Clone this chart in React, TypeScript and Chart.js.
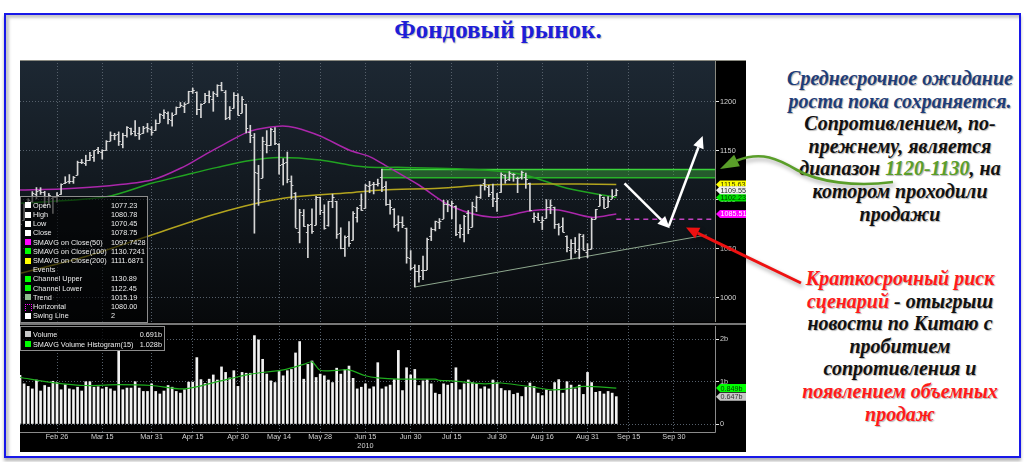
import React, { useEffect, useRef } from 'react';
import { Chart, registerables } from 'chart.js';

Chart.register(...registerables);
Chart.defaults.font.family = 'Liberation Sans';

// ---------- categories: trading days ----------
const FEB_DAYS = [12, 16, 17, 18, 19, 22, 23, 24, 25, 26];
const MAR_DAYS = [1, 2, 3, 4, 5, 8, 9, 10, 11, 12, 15, 16, 17, 18, 19, 22, 23, 24, 25, 26, 29, 30, 31];
const APR_DAYS = [1, 5, 6, 7, 8, 9, 12, 13, 14, 15, 16, 19, 20, 21, 22, 23, 26, 27, 28, 29, 30];
const MAY_DAYS = [3, 4, 5, 6, 7, 10, 11, 12, 13, 14, 17, 18, 19, 20, 21, 24, 25, 26, 27, 28];
const JUN_DAYS = [1, 2, 3, 4, 7, 8, 9, 10, 11, 14, 15, 16, 17, 18, 21, 22, 23, 24, 25, 28, 29, 30];
const JUL_DAYS = [1, 2, 6, 7, 8, 9, 12, 13, 14, 15, 16, 19, 20, 21, 22, 23, 26, 27, 28, 29, 30];
const AUG_DAYS = [2, 3, 4, 5, 6, 9, 10, 11, 12, 13, 16, 17, 18, 19, 20, 23, 24, 25, 26, 27, 30, 31];
const SEP_DAYS = [1, 2, 3, 7, 8, 9, 10, 13, 14, 15, 16, 17, 20, 21, 22, 23, 24, 27, 28, 29, 30];
const OCT_DAYS = [1, 4, 5, 6, 7, 8, 11, 12, 13, 14];
const MONTHS: [string, number[]][] = [
  ['Feb', FEB_DAYS], ['Mar', MAR_DAYS], ['Apr', APR_DAYS], ['May', MAY_DAYS], ['Jun', JUN_DAYS],
  ['Jul', JUL_DAYS], ['Aug', AUG_DAYS], ['Sep', SEP_DAYS], ['Oct', OCT_DAYS],
];
const LABELS: string[] = MONTHS.flatMap(([m, days]) => days.map((d) => `${m} ${d}`));

const X_TICK_LABELS = ['Feb 26', 'Mar 15', 'Mar 31', 'Apr 15', 'Apr 30', 'May 14', 'May 28', 'Jun 15',
  'Jun 30', 'Jul 15', 'Jul 30', 'Aug 16', 'Aug 31', 'Sep 15', 'Sep 30'];
const YEAR_LABEL = '2010';
const YEAR_UNDER = 'Jun 15';
const TICK_SET = new Set(X_TICK_LABELS);

const PRICE_TICKS = [1000, 1050, 1100, 1150, 1200];
const VOLUME_TICKS = [0, 1, 2];

// ---------- price OHLC (Feb 12 .. Sep 10, 2010) ----------
const OPEN = [1075.95,1079.13,1096.14,1099.03,1105.49,1110.00,1107.49,1095.89,1101.24,1103.10,
  1105.36,1117.01,1119.36,1119.12,1125.12,1138.40,1137.56,1140.22,1143.96,1151.71,1148.53,1150.83,1159.94,1166.13,1166.68,1157.25,1166.47,1172.70,1170.03,1167.58,1167.71,1173.75,1171.75,
  1171.23,1178.71,1186.01,1188.23,1181.75,1187.47,1194.94,1195.94,1198.69,1210.77,1210.17,1192.06,1199.04,1207.16,1202.52,1207.87,1217.07,1209.92,1184.59,1193.30,1206.77,
  1188.58,1197.50,1169.24,1164.38,1127.04,1122.27,1156.39,1155.43,1170.04,1157.19,1136.52,1138.78,1119.57,1107.34,1067.26,1084.78,1067.42,1075.51,1074.27,1102.59,
  1087.30,1073.89,1098.82,1098.43,1065.84,1050.81,1062.75,1058.77,1082.65,1095.00,1091.21,1114.02,1115.98,1116.16,1122.79,1113.90,1095.57,1090.93,1075.10,1077.50,1071.10,1040.56,
  1031.10,1027.65,1028.09,1028.54,1062.92,1070.50,1077.23,1080.65,1095.61,1094.46,1093.85,1066.85,1064.53,1086.67,1072.14,1092.17,1102.89,1117.36,1112.84,1108.07,1098.44,
  1107.53,1125.34,1121.06,1125.78,1122.07,1122.80,1122.92,1116.89,1081.48,1082.22,1077.49,1081.16,1092.08,1092.44,1075.63,1073.36,1063.20,1048.98,1056.28,1049.27,1062.90,1046.88,
  1049.72,1080.66,1093.61,1102.60,1092.36,1101.15,1104.57];
const HIGH = [1077.81,1095.67,1101.03,1108.24,1112.42,1112.29,1108.58,1106.42,1103.50,1107.24,
  1116.11,1123.46,1125.64,1123.73,1139.38,1141.05,1145.37,1148.26,1150.24,1153.41,1150.98,1160.28,1169.20,1167.77,1169.19,1167.82,1174.72,1173.04,1180.69,1173.93,1174.85,1177.83,1174.56,
  1181.43,1187.73,1191.80,1189.60,1188.55,1194.66,1199.20,1199.04,1210.65,1213.92,1210.17,1197.87,1208.58,1210.99,1210.27,1217.28,1219.80,1211.38,1195.05,1209.36,1207.99,
  1205.13,1197.50,1175.95,1167.58,1135.13,1163.85,1170.48,1172.87,1173.57,1157.19,1141.88,1148.66,1124.27,1107.34,1090.16,1089.95,1074.75,1090.75,1103.52,1102.59,
  1094.77,1098.42,1105.67,1098.43,1071.36,1063.15,1077.74,1087.85,1092.25,1105.91,1115.59,1118.74,1117.72,1121.01,1131.23,1118.50,1099.64,1090.93,1083.56,1082.60,1071.10,1048.08,
  1033.58,1032.95,1042.50,1060.89,1071.25,1078.16,1080.78,1099.46,1099.08,1098.66,1093.85,1074.70,1083.94,1088.96,1097.50,1103.73,1115.01,1120.95,1114.66,1115.90,1106.44,
  1127.30,1125.44,1128.75,1126.56,1123.06,1129.24,1127.16,1116.89,1086.72,1086.25,1082.62,1100.14,1099.77,1092.44,1075.63,1081.58,1063.20,1059.38,1061.45,1065.21,1064.40,1055.14,
  1081.30,1090.10,1105.10,1102.60,1103.26,1110.27,1110.88];
const LOW = [1062.97,1079.13,1094.72,1097.48,1100.80,1105.38,1092.18,1095.50,1086.02,1097.56,
  1105.36,1116.51,1116.58,1116.66,1125.12,1136.77,1134.90,1140.09,1138.99,1146.97,1141.45,1150.35,1159.94,1161.16,1155.33,1152.88,1163.83,1166.01,1165.09,1161.48,1167.71,1168.92,1165.77,
  1170.69,1178.71,1182.77,1177.25,1175.12,1187.15,1194.71,1188.82,1198.69,1208.50,1186.77,1183.68,1199.04,1198.85,1190.19,1205.10,1211.07,1181.62,1181.81,1193.30,1186.32,
  1188.58,1168.12,1158.15,1065.79,1094.15,1122.27,1147.71,1155.43,1156.14,1126.14,1114.96,1117.20,1100.66,1071.58,1055.90,1072.70,1040.78,1065.59,1074.27,1084.78,
  1069.89,1072.94,1091.81,1060.50,1049.86,1042.17,1052.25,1058.77,1077.12,1089.03,1091.21,1107.13,1105.87,1113.93,1108.24,1094.18,1085.31,1071.60,1067.89,1071.45,1035.18,1028.33,
  1010.91,1015.93,1018.35,1028.54,1058.24,1068.10,1070.45,1080.65,1087.68,1080.53,1063.32,1061.11,1056.88,1065.25,1072.14,1087.88,1101.30,1109.78,1103.11,1092.82,1088.01,
  1107.53,1116.76,1119.46,1118.81,1107.17,1120.91,1111.58,1088.55,1076.69,1079.00,1069.49,1081.16,1085.76,1070.66,1063.91,1067.08,1046.68,1039.83,1045.40,1039.70,1048.79,1040.88,
  1049.72,1080.39,1093.61,1091.15,1092.36,1101.15,1103.92];
const CLOSE = [1075.51,1094.87,1099.51,1106.75,1109.17,1108.01,1094.60,1105.24,1102.94,1104.49,
  1115.71,1118.31,1118.79,1122.97,1138.70,1138.50,1140.45,1145.61,1150.24,1149.99,1150.51,1159.46,1166.21,1165.83,1159.90,1165.81,1174.17,1167.72,1165.73,1166.59,1173.22,1173.27,1169.43,
  1178.10,1187.44,1189.44,1182.45,1186.44,1194.37,1196.48,1197.30,1210.65,1211.67,1192.13,1197.52,1207.17,1205.94,1208.67,1217.28,1212.05,1183.71,1191.36,1206.78,1186.69,
  1202.26,1173.60,1165.87,1128.15,1110.88,1159.73,1155.79,1171.67,1157.44,1135.68,1136.94,1120.80,1115.05,1071.59,1087.69,1073.65,1074.03,1067.95,1103.06,1089.41,
  1070.71,1098.38,1102.83,1064.88,1050.47,1062.00,1055.69,1086.84,1091.60,1089.63,1115.23,1114.61,1116.04,1117.51,1113.20,1095.31,1092.04,1073.69,1076.76,1074.57,1041.24,1030.71,
  1027.37,1022.58,1028.06,1060.27,1070.25,1077.96,1078.75,1095.34,1095.17,1096.48,1064.88,1071.25,1083.48,1069.59,1093.67,1102.66,1115.01,1113.84,1106.13,1101.53,1101.60,
  1125.86,1120.46,1127.24,1125.81,1121.64,1127.79,1121.06,1089.47,1083.61,1079.25,1079.38,1092.54,1094.16,1075.63,1071.69,1067.36,1051.87,1055.33,1047.22,1064.59,1048.92,1049.33,
  1080.29,1090.10,1104.51,1091.84,1098.87,1104.18,1109.55];

// ---------- volume (billions) ----------
const VOLUME = [1.15,
  0.95,0.89,0.83,1.04,0.78,0.91,0.87,1.01,0.98,0.81,
  0.93,0.83,0.81,0.87,0.78,1.00,1.00,0.87,0.88,0.83,
  0.87,0.83,0.78,1.74,0.81,0.85,0.85,1.00,0.85,0.77,
  0.77,0.95,0.77,0.71,0.78,0.91,0.87,0.77,0.73,0.81,
  0.99,0.99,1.57,1.05,0.96,1.06,1.16,1.04,1.35,1.22,
  1.09,1.26,0.89,1.22,1.20,1.20,2.09,1.99,1.53,1.18,
  1.02,0.98,1.24,1.14,1.26,1.29,1.68,1.95,1.06,1.41,
  1.49,1.10,1.18,1.14,1.04,0.98,1.32,1.18,1.29,1.37,
  1.08,0.83,0.87,0.95,0.83,0.88,1.45,0.83,0.88,0.92,
  1.05,1.74,0.79,1.33,1.16,1.29,0.91,1.02,1.05,0.95,
  0.73,0.70,0.95,0.92,0.96,1.33,0.81,0.95,1.04,0.98,
  0.95,0.83,0.88,0.83,1.04,0.98,0.84,0.79,0.79,0.70,
  0.73,0.65,0.87,0.97,0.89,0.73,0.67,0.81,0.78,0.98,
  1.05,0.73,1.00,0.92,0.83,0.92,0.70,1.22,0.98,0.75,
  0.77,0.71,0.77,0.73,0.647];

// ---------- moving averages ----------
const SMA50_DATES = ['Feb 12','Mar 1','Mar 16','Mar 31','Apr 13','Apr 20','Apr 27','May 5','May 14','May 20','May 28','Jun 9','Jun 16','Jun 21','Jul 2','Jul 15','Jul 29','Aug 11','Aug 20','Sep 1','Sep 10'];
const SMA50 = [1110,1111,1114,1120,1134,1146,1157.5,1170,1175,1173.5,1165,1150.7,1144,1137,1115,1093,1082,1088.5,1089.5,1082,1085.51];
const SMA100_DATES = ['Feb 12','Mar 16','Mar 31','Apr 13','Apr 23','May 5','May 14','May 28','Jun 9','Jun 16','Jun 25','Jul 27','Aug 10','Aug 24','Sep 10'];
const SMA100 = [1096.3,1103,1116.7,1125,1133,1140,1143,1140.5,1135.4,1133,1133,1130.3,1125,1111.6,1102.23];
const SMA200_DATES = ['Feb 12','Mar 9','Mar 31','Apr 23','May 17','Jun 9','Jun 21','Jul 12','Jul 27','Aug 16','Sep 10'];
const SMA200 = [1024.9,1042,1064,1086,1101.4,1107,1110,1111.7,1115,1116,1115.63];
const VOL_SMA_DATES = ['Feb 12','Feb 25','Mar 9','Mar 19','Mar 31','Apr 13','Apr 23','May 5','May 17','May 24','May 26','May 28','Jun 4','Jun 9','Jun 15','Jun 18','Jun 25','Jul 9','Jul 12','Jul 15','Jul 27','Aug 2','Aug 12','Aug 18','Aug 24','Aug 30','Sep 10'];
const VOL_SMA = [1.10,0.98,0.91,0.93,0.91,0.83,1.00,1.18,1.28,1.41,1.47,1.27,1.27,1.28,1.14,1.09,1.06,1.06,1.03,1.02,0.95,0.97,0.87,0.81,0.83,0.89,0.849];

// ---------- drawn studies ----------
const CHANNEL_DATES = ['Jun 21', 'Oct 14'];
const CHANNEL_UPPER = [1130.89, 1130.89];
const CHANNEL_LOWER = [1122.45, 1122.45];
const TREND_DATES = ['Jul 1', 'Oct 12'];
const TREND_VALUES = [1010.91, 1064];
const HORIZONTAL_DATES = ['Sep 10', 'Oct 14'];
const HORIZONTAL_VALUES = [1080, 1080];
const ARROW_DATES = ['Sep 14', 'Sep 29', 'Oct 11'];
const ARROW_VALUES = [1116.7, 1070.8, 1165];

const PRICE_MIN = 975.2;
const PRICE_MAX = 1242.55;
const VOL_MIN = -0.189;
const VOL_MAX = 2.317;

const PRICE_LEGEND: [string, string, string | null][] = [
  ['Open', '1077.23', '#ffffff'], ['High', '1080.78', '#ffffff'], ['Low', '1070.45', '#ffffff'], ['Close', '1078.75', '#ffffff'],
  ['SMAVG on Close(50)', '1097.7428', '#ff00ff'], ['SMAVG on Close(100)', '1130.7241', '#00ff00'], ['SMAVG on Close(200)', '1111.6871', '#ffff00'],
  ['Events', '', null], ['Channel Upper', '1130.89', '#00ff00'], ['Channel Lower', '1122.45', '#00ff00'], ['Trend', '1015.19', '#8fbc8f'],
  ['Horizontal', '1080.00', 'bracket'], ['Swing Line', '2', '#ffffff'],
];
const VOLUME_LEGEND: [string, string, string][] = [
  ['Volume', '0.691b', '#c8c8c8'], ['SMAVG Volume Histogram(15)', '1.028b', '#00ff00'],
];

const pts = (dates: string[], vals: number[]) => dates.map((d, i) => ({ x: d, y: vals[i] }));
const last = (a: number[]) => a[a.length - 1];

const AXIS_FONT = { family: 'Liberation Sans', size: 7.3 };
const GRID = '#56606b';

function drawTag(ctx: CanvasRenderingContext2D, x0: number, x1: number, y: number, bg: string, fg: string, text: string) {
  const h = 8;
  ctx.fillStyle = bg;
  ctx.beginPath();
  ctx.moveTo(x0, y);
  ctx.lineTo(x0 + 4, y - h / 2);
  ctx.lineTo(x1, y - h / 2);
  ctx.lineTo(x1, y + h / 2);
  ctx.lineTo(x0 + 4, y + h / 2);
  ctx.closePath();
  ctx.fill();
  ctx.fillStyle = fg;
  ctx.font = '7.2px "Liberation Sans"';
  ctx.textBaseline = 'middle';
  ctx.textAlign = 'left';
  ctx.fillText(text, x0 + 4.5, y + 0.5);
}

function drawArrow(ctx: CanvasRenderingContext2D, x1: number, y1: number, x2: number, y2: number) {
  const dx = x2 - x1, dy = y2 - y1;
  const len = Math.hypot(dx, dy);
  const ux = dx / len, uy = dy / len;
  const hl = 12, hw = 5.5;
  const bx = x2 - ux * hl, by = y2 - uy * hl;
  ctx.beginPath();
  ctx.moveTo(x1, y1);
  ctx.lineTo(bx, by);
  ctx.stroke();
  ctx.beginPath();
  ctx.moveTo(x2, y2);
  ctx.lineTo(bx - uy * hw, by + ux * hw);
  ctx.lineTo(bx + uy * hw, by - ux * hw);
  ctx.closePath();
  ctx.fill();
}

const priceDecor = {
  id: 'priceDecor',
  beforeDraw(chart: any) {
    const { ctx, chartArea: a, width, height } = chart;
    ctx.save();
    ctx.fillStyle = '#000';
    ctx.fillRect(0, 0, width, height);
    const g = ctx.createLinearGradient(0, a.top, 0, a.bottom);
    g.addColorStop(0, '#1d2833');
    g.addColorStop(1, '#07090b');
    ctx.fillStyle = g;
    ctx.fillRect(a.left, a.top, a.right - a.left, a.bottom - a.top);
    ctx.restore();
  },
  afterDatasetsDraw(chart: any) {
    const { ctx, chartArea: a, scales: { x, y } } = chart;
    ctx.save();
    ctx.beginPath();
    ctx.rect(a.left, a.top, a.right - a.left, a.bottom - a.top);
    ctx.clip();
    // open / close ticks
    ctx.strokeStyle = '#d6d6d6';
    ctx.lineWidth = 1;
    ctx.beginPath();
    OPEN.forEach((o, i) => {
      const px = x.getPixelForValue(i);
      const po = Math.round(y.getPixelForValue(o)) + 0.5;
      const pcl = Math.round(y.getPixelForValue(CLOSE[i])) + 0.5;
      ctx.moveTo(px - 2, po); ctx.lineTo(px, po);
      ctx.moveTo(px, pcl); ctx.lineTo(px + 2, pcl);
    });
    ctx.stroke();
    // white scenario arrows
    ctx.strokeStyle = '#ffffff';
    ctx.fillStyle = '#ffffff';
    ctx.lineWidth = 2.5;
    const P = ARROW_DATES.map((d, i) => [x.getPixelForValue(LABELS.indexOf(d)), y.getPixelForValue(ARROW_VALUES[i])]);
    drawArrow(ctx, P[0][0], P[0][1], P[1][0], P[1][1]);
    drawArrow(ctx, P[1][0] - 1, P[1][1] - 2, P[2][0], P[2][1]);
    ctx.restore();
  },
  afterDraw(chart: any) {
    const { ctx, chartArea: a, width, scales: { y } } = chart;
    ctx.save();
    ctx.strokeStyle = '#8a8a80';
    ctx.lineWidth = 1;
    ctx.beginPath();
    ctx.moveTo(0, 0.5); ctx.lineTo(width, 0.5);
    ctx.moveTo(a.right + 0.5, a.top); ctx.lineTo(a.right + 0.5, a.bottom);
    ctx.stroke();
    const x0 = a.right + 1, x1 = width;
    drawTag(ctx, x0, x1, y.getPixelForValue(last(SMA200)), '#ffff00', '#303000', last(SMA200).toFixed(2));
    drawTag(ctx, x0, x1, y.getPixelForValue(last(SMA100)), '#00e000', '#003000', last(SMA100).toFixed(2));
    drawTag(ctx, x0, x1, y.getPixelForValue(last(CLOSE)), '#f0f0f0', '#222', last(CLOSE).toFixed(2));
    drawTag(ctx, x0, x1, y.getPixelForValue(last(SMA50)), '#ff00ff', '#ffffff', last(SMA50).toFixed(2));
    ctx.restore();
  },
};

const volumeDecor = {
  id: 'volumeDecor',
  beforeDraw(chart: any) {
    const { ctx, width, height } = chart;
    ctx.save();
    ctx.fillStyle = '#000';
    ctx.fillRect(0, 0, width, height);
    ctx.fillStyle = '#777';
    ctx.fillRect(0, 1, width, 2);
    ctx.restore();
  },
  afterDraw(chart: any) {
    const { ctx, chartArea: a, width, scales: { y } } = chart;
    ctx.save();
    ctx.strokeStyle = '#8a8a8a';
    ctx.lineWidth = 1;
    ctx.beginPath();
    ctx.moveTo(a.right + 0.5, a.top); ctx.lineTo(a.right + 0.5, a.bottom + 0.5);
    ctx.moveTo(a.left, a.bottom + 0.5); ctx.lineTo(a.right + 0.5, a.bottom + 0.5);
    ctx.stroke();
    const x0 = a.right + 1, x1 = width;
    drawTag(ctx, x0, x1, y.getPixelForValue(last(VOL_SMA)), '#00ff00', '#004000', last(VOL_SMA).toFixed(3) + 'b');
    drawTag(ctx, x0, x1, y.getPixelForValue(last(VOLUME)), '#c8c8c8', '#333', last(VOLUME).toFixed(3) + 'b');
    ctx.restore();
  },
};

const xGridColor = (c: any) => (TICK_SET.has(LABELS[c.index]) ? GRID : 'rgba(0,0,0,0)');
const fitRightAxis = (s: any) => { s.width = 31; s.paddingTop = 0; s.paddingBottom = 0; };

function priceConfig(): any {
  const line = (label: string, data: any[], color: string, extra: any = {}) => ({
    type: 'line', label, data, borderColor: color, borderWidth: 1.5, pointRadius: 0, fill: false, tension: 0.3, order: 2, ...extra,
  });
  return {
    type: 'bar',
    data: {
      labels: LABELS,
      datasets: [
        line('Channel Upper', pts(CHANNEL_DATES, CHANNEL_UPPER), '#3bd33b', { tension: 0, order: 5 }),
        line('Channel Lower', pts(CHANNEL_DATES, CHANNEL_LOWER), '#28b428', { tension: 0, order: 5, fill: '-1', backgroundColor: 'rgba(60,170,60,0.45)' }),
        line('Trend', pts(TREND_DATES, TREND_VALUES), '#8ea88e', { tension: 0, borderWidth: 1 }),
        line('Horizontal', pts(HORIZONTAL_DATES, HORIZONTAL_VALUES), '#c043c0', { tension: 0, borderDash: [5, 4] }),
        line('SMAVG on Close(200)', pts(SMA200_DATES, SMA200), '#b3a41e'),
        line('SMAVG on Close(100)', pts(SMA100_DATES, SMA100), '#21a321'),
        line('SMAVG on Close(50)', pts(SMA50_DATES, SMA50), '#ab27ab'),
        {
          type: 'bar', label: 'High-Low', data: LOW.map((l, i) => [l, HIGH[i]]),
          backgroundColor: '#d6d6d6', borderWidth: 0, barThickness: 1, order: 0,
        },
      ],
    },
    options: {
      responsive: false,
      animation: false,
      events: [],
      layout: { padding: 0 },
      plugins: { legend: { display: false }, tooltip: { enabled: false } },
      scales: {
        x: {
          type: 'category', offset: false,
          grid: { offset: false, color: xGridColor, drawTicks: false },
          border: { display: false, dash: [1, 2] },
          ticks: { display: false, autoSkip: false },
          afterFit: (s: any) => { s.height = 0; s.paddingLeft = 0; s.paddingRight = 0; },
        },
        y: {
          position: 'right', min: PRICE_MIN, max: PRICE_MAX,
          afterBuildTicks: (s: any) => { s.ticks = PRICE_TICKS.map((v) => ({ value: v })); },
          afterFit: fitRightAxis,
          grid: { color: GRID, drawTicks: true, tickLength: 4, tickColor: '#e6e6e6' },
          border: { display: false, dash: [1, 2] },
          ticks: { color: '#d2d2d2', font: AXIS_FONT, padding: 1, callback: (v: any) => String(v) },
        },
      },
    },
    plugins: [priceDecor],
  };
}

function volumeConfig(): any {
  return {
    type: 'bar',
    data: {
      labels: LABELS,
      datasets: [
        {
          type: 'line', label: 'SMAVG Volume Histogram(15)', data: pts(VOL_SMA_DATES, VOL_SMA),
          borderColor: '#1fae1f', borderWidth: 1.2, pointRadius: 0, tension: 0.3, order: 0,
        },
        { type: 'bar', label: 'Volume', data: VOLUME, backgroundColor: '#f2f2f2', borderWidth: 0, barThickness: 2, order: 1 },
      ],
    },
    options: {
      responsive: false,
      animation: false,
      events: [],
      layout: { padding: { top: 4, left: 0, right: 0, bottom: 0 } },
      plugins: { legend: { display: false }, tooltip: { enabled: false } },
      scales: {
        x: {
          type: 'category', offset: false,
          grid: { offset: false, color: xGridColor, drawTicks: false },
          border: { display: false, dash: [1, 2] },
          ticks: {
            autoSkip: false, maxRotation: 0, minRotation: 0, padding: 1, color: '#d2d2d2', font: AXIS_FONT,
            callback: (_v: any, i: number) => {
              const l = LABELS[i];
              if (!TICK_SET.has(l)) return '';
              return l === YEAR_UNDER ? [l, YEAR_LABEL] : l;
            },
          },
          afterFit: (s: any) => { s.height = 20; s.paddingLeft = 0; s.paddingRight = 0; },
        },
        y: {
          position: 'right', min: VOL_MIN, max: VOL_MAX,
          afterBuildTicks: (s: any) => { s.ticks = VOLUME_TICKS.map((v) => ({ value: v })); },
          afterFit: fitRightAxis,
          grid: { color: GRID, drawTicks: true, tickLength: 4, tickColor: '#e6e6e6' },
          border: { display: false, dash: [1, 2] },
          ticks: { color: '#d2d2d2', font: AXIS_FONT, padding: 1, callback: (v: any) => (v === 0 ? '0' : v + 'b') },
        },
      },
    },
    plugins: [volumeDecor],
  };
}

const legendText: React.CSSProperties = {
  position: 'absolute', fontFamily: 'Liberation Sans', fontSize: 7.3, color: '#ececec', whiteSpace: 'nowrap', lineHeight: '9px',
};

function Swatch({ color }: { color: string | null }) {
  if (!color) return null;
  if (color === 'bracket') {
    return <div style={{ position: 'absolute', left: 4, top: 2, width: 5, height: 6, borderLeft: '1px dotted #ff00ff', borderRight: '1px dotted #ff00ff', borderTop: '1px dotted #ff00ff' }} />;
  }
  return <div style={{ position: 'absolute', left: 4, top: 1.5, width: 6, height: 6, background: color }} />;
}

const serifBlock: React.CSSProperties = {
  position: 'absolute', left: 770, width: 260, textAlign: 'center', fontFamily: '"Liberation Serif", serif',
  fontWeight: 'bold', fontStyle: 'italic', fontSize: 20, lineHeight: '22.6px', whiteSpace: 'nowrap',
  textShadow: '1px 1px 1px rgba(0,0,0,0.3)',
};
const NAVY = '#1f3d78';
const RED = '#ff1a1a';
const GREEN_TXT = '#5a9e2a';

export default function App() {
  const priceRef = useRef<HTMLCanvasElement>(null);
  const volRef = useRef<HTMLCanvasElement>(null);

  useEffect(() => {
    const pc = new Chart(priceRef.current as HTMLCanvasElement, priceConfig());
    const vc = new Chart(volRef.current as HTMLCanvasElement, volumeConfig());
    return () => { pc.destroy(); vc.destroy(); };
  }, []);

  return (
    <div style={{ position: 'absolute', left: 0, top: 0, width: 1024, height: 462, background: '#fff', overflow: 'hidden' }}>
      {/* outer frame */}
      <div style={{
        position: 'absolute', left: 4, top: 13, width: 1017, height: 445, boxSizing: 'border-box',
        border: '2px solid #1818e8', boxShadow: 'inset 3px 3px 3px rgba(0,0,0,0.22), 0 3px 3px rgba(0,0,0,0.3)',
      }} />
      {/* title */}
      <div style={{
        position: 'absolute', left: 0, top: 15, width: 996, textAlign: 'center', fontFamily: '"Liberation Serif", serif',
        fontWeight: 'bold', fontSize: 25, lineHeight: '30px', color: '#1e1ed8', textShadow: '1px 1px 1px rgba(0,0,0,0.25)',
      }}>Фондовый рынок.</div>

      {/* chart panel */}
      <div style={{ position: 'absolute', left: 20, top: 60, width: 726, height: 392, background: '#000' }}>
        <canvas ref={priceRef} width={726} height={262} style={{ position: 'absolute', left: 0, top: 0, width: 726, height: 262 }} />
        <canvas ref={volRef} width={726} height={130} style={{ position: 'absolute', left: 0, top: 262, width: 726, height: 130 }} />

        {/* price legend */}
        <div style={{ position: 'absolute', left: 0, top: 136, width: 128, height: 127, boxSizing: 'border-box', border: '1px solid #8c8c8c', background: 'rgba(0,0,0,0.6)' }}>
          {PRICE_LEGEND.map(([name, val, col], i) => (
            <div key={name} style={{ position: 'absolute', left: 0, top: 3.8 + i * 9.2, width: 126, height: 9 }}>
              <Swatch color={col} />
              <div style={{ ...legendText, left: 12 }}>{name}</div>
              <div style={{ ...legendText, left: 90 }}>{val}</div>
            </div>
          ))}
        </div>

        {/* volume legend */}
        <div style={{ position: 'absolute', left: 0, top: 266, width: 145, height: 25, boxSizing: 'border-box', border: '1px solid #8c8c8c', background: 'rgba(0,0,0,0.75)' }}>
          {VOLUME_LEGEND.map(([name, val, col], i) => (
            <div key={name} style={{ position: 'absolute', left: 0, top: 2.8 + i * 9.7, width: 143, height: 9 }}>
              <Swatch color={col} />
              <div style={{ ...legendText, left: 12 }}>{name}</div>
              <div style={{ ...legendText, right: 2, textAlign: 'right' }}>{val}</div>
            </div>
          ))}
        </div>
      </div>

      {/* commentary, upper block */}
      <div style={{ ...serifBlock, top: 67 }}>
        <div style={{ color: NAVY }}>Среднесрочное ожидание</div>
        <div style={{ color: NAVY }}>роста пока сохраняется.</div>
        <div style={{ color: '#111' }}>Сопротивлением, по-</div>
        <div style={{ color: '#111' }}>прежнему, является</div>
        <div style={{ color: '#111' }}>диапазон <span style={{ color: GREEN_TXT }}>1120-1130</span>, на</div>
        <div style={{ color: '#111' }}>котором проходили</div>
        <div style={{ color: '#111' }}>продажи</div>
      </div>

      {/* commentary, lower block */}
      <div style={{ ...serifBlock, top: 267 }}>
        <div style={{ color: RED }}>Краткосрочный риск</div>
        <div style={{ color: '#111' }}><span style={{ color: RED }}>сценарий</span> - отыгрыш</div>
        <div style={{ color: '#111' }}>новости по Китаю с</div>
        <div style={{ color: '#111' }}>пробитием</div>
        <div style={{ color: '#111' }}>сопротивления и</div>
        <div style={{ color: RED }}>появлением объемных</div>
        <div style={{ color: RED }}>продаж</div>
      </div>

      {/* pointer arrows */}
      <svg width={1024} height={462} style={{ position: 'absolute', left: 0, top: 0, pointerEvents: 'none', overflow: 'visible' }}>
        <g style={{ filter: 'drop-shadow(2px 3px 2px rgba(0,0,0,0.35))' }}>
          <path d="M 893 182 C 855 187, 818 182, 797 170 C 778 159, 762 151, 737 160.5" stroke={GREEN_TXT} strokeWidth={2.6} fill="none" />
          <polygon points="720,169 739.9,166.3 734.1,154.7" fill={GREEN_TXT} />
        </g>
        <g style={{ filter: 'drop-shadow(2px 3px 2px rgba(0,0,0,0.35))' }}>
          <line x1={801} y1={283} x2={697.7} y2={233.2} stroke="#ee1111" strokeWidth={3} />
          <polygon points="686,227.5 695.1,238.6 700.3,227.8" fill="#ee1111" />
        </g>
      </svg>
    </div>
  );
}
